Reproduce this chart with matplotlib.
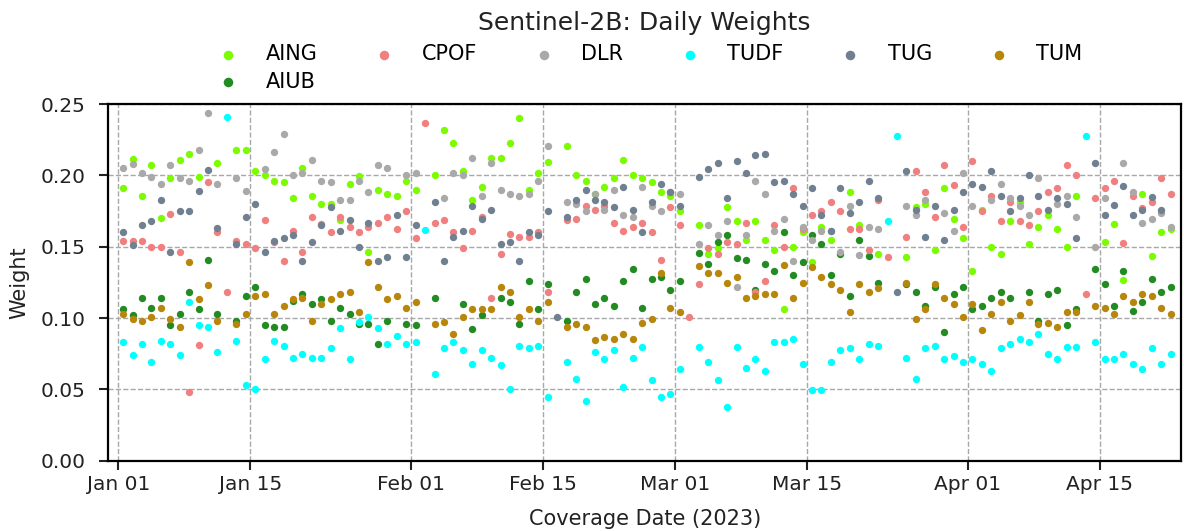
import matplotlib
matplotlib.use("Agg")
import matplotlib.dates as mdates
import matplotlib.pyplot as plt
import numpy as np
import pandas as pd

nan = np.nan

# daily weights, Jan 01 .. Apr 22 2023 (one value per day, nan = no point)
aing = [.191, .2115, .1855, .207, .170, .198, .211, .215, .199, nan, .2085, nan,
        .218, .218, .203, .200, .196, .195, .184, .205, .1855, .180, .180, .169, .194,
        .1995, .146, .1895, .187, .1855, .196, .1895, nan, .200, .2315, .2225, .203,
        .1825, .192, .2125, .2125, .2225, .2405, .1895, .2015, .2095, nan, .2205, .200, .196,
        .187, .192, .198, .211, .200, .198, .195, .188, .1855, .175, nan, .165, .145,
        .149, .1775, .168, .1545, .168, .1545, .1475, .106, .150, .160, .1395, .164,
        .1545, nan, .188, .165, nan, .145, nan, nan, .1425, .1775, .180, .1475, .191,
        .1695, .156, .133, .176, .150, .145, .168, .1815, .152, .164, .172, .1625, .150,
        .1855, nan, nan, .153, .1657, .1267, nan, .187, .1435, .160, .1625]
aiub = [.106, .102, .114, .107, .114, .095, .103, .118, .106, .141, .103, nan,
        .098, .1155, .122, .095, .094, .094, .112, .117, .110, .113, .098, .107, .103,
        .096, .096, .082, .098, nan, .096, .095, nan, .114, nan, nan, .110,
        .0925, .102, nan, .114, .1115, .096, .126, .106, .1235, nan, .098, .118, .1275,
        .110, .114, .1085, .126, .1345, .107, .1275, .1285, .1195, .126, nan, .1455, .138,
        .153, .1585, .142, .141, .1195, .138, .133, .160, .130, .1395, .1585, .152,
        .130, .145, .1155, .1545, .1435, .1245, nan, nan, .1235, .118, .1085, .122, .090,
        .117, .122, .106, .1085, .114, .118, .114, nan, .118, .098, .117, .1195, .095,
        .106, nan, .1345, .1235, .1086, .133, .105, .1115, .1276, .118, .122]
cpof = [.154, .154, .154, .150, .150, .173, .146, .048, .081, .195, .160, .118,
        .154, .152, .149, .169, .153, .140, .161, .146, .171, .166, .160, .171, .164,
        .160, .164, .1665, .171, .1625, .175, .156, .237, .1665, .169, .160, .149,
        .161, .171, .114, .145, .159, .157, .157, .160, .118, nan, .1685, .1695, .1785,
        .176, .1785, .1665, .161, .164, .1665, .160, .1405, .1775, .165, .101, .1235, .149,
        .145, .153, .152, .1665, .118, .126, .165, .150, .191, .1625, .172, .175,
        .1815, .175, .1625, .1625, .1475, .1825, .143, nan, .157, .203, .188, .171, .207,
        .1935, .1635, .210, .175, .1855, .168, .1815, .168, .165, .175, .188, .191, .207,
        .200, .117, .184, .191, .196, .1524, .1855, .1774, .1815, .198, .187]
dlr = [.205, .208, .2015, .199, .194, .207, .198, .196, .218, .2435, .194, nan,
       .198, .189, nan, .2045, .2165, .229, .200, .202, .211, .196, .195, .183, .183,
       .196, .188, .207, .2055, nan, .200, .2015, nan, nan, .184, .2015, .200,
       .2125, .1855, .2085, .1895, .187, .1855, .187, .196, .2205, nan, .1815, .180, .175,
       .187, .176, .1895, .172, .1705, .192, .1785, .175, .188, .187, nan, .152, .165,
       .1585, .168, .122, .1585, .196, .187, .161, .1695, .140, .164, .1545, .161,
       .161, .1465, .1785, .1445, .164, .1625, nan, nan, .1785, .172, .1825, nan, .1735,
       .161, .2015, .1785, nan, .183, .194, .184, .1785, .172, .198, nan, .180, .1855,
       .1705, nan, .1495, .184, nan, .2085, .188, .1668, .1694, .1735, .164]
tudf = [.083, .074, .082, .069, .084, .082, .074, .111, .095, .094, .076, .241,
        .084, .053, .0505, .071, .084, .0805, .072, .075, .072, .072, .079, .093, .071,
        .097, .101, .093, .082, .0875, .082, .083, .1615, .061, .079, .083, .0775,
        .068, .0775, .072, .067, .0505, .0805, .079, .0805, .0445, nan, .0695, .0575, .0415,
        .0765, .071, .0775, .052, .072, .080, .0565, .0445, .047, .064, nan, .080, .0695,
        .0565, .0375, .080, .065, .071, .063, .083, .083, .0855, .068, .0495, .0495,
        .0695, .0775, .079, .071, .082, .0805, .168, .2275, .072, .0575, .079, .0805, .071,
        .0735, .0695, .071, .068, .063, .079, .082, .0855, .083, .0885, .075, .071, .080,
        .080, .2275, .083, .071, .071, .075, .068, .064, .079, .068, .075]
tug = [.160, .151, .165, .168, .183, .146, .175, .175, .189, .204, .163, nan,
       .152, .171, .180, .146, .154, .156, .158, .140, .153, .165, .1775, .161, .169,
       .150, .1665, .140, .143, .172, .143, .165, nan, .1815, .140, .157, .161,
       .1785, .1695, .176, .152, .153, .140, .160, .1585, .175, .101, .1705, .1825, .1895,
       .1825, .1815, .1775, .192, .176, .160, .1815, .194, .188, .1785, nan, .199, .2045,
       .2085, .184, .210, .2015, .214, .215, .195, .196, .187, .1785, .191, .172,
       .161, .191, .1735, .1815, .196, .184, nan, .118, .203, .176, .157, .1785, .1545,
       .176, .188, .194, .192, .203, .1855, .175, .184, .200, .1855, .176, .184, .180,
       .156, nan, .2085, .172, .179, .1925, .172, .176, .185, .176, nan]
tum = [.103, .099, .098, .101, .107, .099, .094, .139, .113, .123, .098, nan,
       .096, .103, .1155, .117, .103, .1085, .113, .114, .098, .110, .113, .117, .118,
       .104, .1395, .122, .113, .1155, .107, .1115, nan, .096, .097, .0885, .101,
       .106, .106, .106, .122, .118, .101, .106, .098, .1115, nan, .094, .0955, .094,
       .0845, .087, .0855, .0885, .0855, .0965, .099, .1315, .107, .1045, nan, .1365, .1315,
       .1315, .1245, .129, .114, .1155, .117, .117, .137, .114, .1245, .1355, .129,
       .1235, .1195, .1045, .1235, .118, .121, nan, nan, .1245, .099, .106, .1235, .114,
       .110, .101, .110, .0915, .103, .1115, .098, .102, .1115, .0955, .0965, .094, .1045,
       .1045, nan, .1085, .107, .103, .1155, .1115, .117, .1155, .107, .103]

names = ["AING", "AIUB", "CPOF", "DLR", "TUDF", "TUG", "TUM"]
colors = ["lawngreen", "forestgreen", "lightcoral", "darkgray", "cyan", "slategray", "darkgoldenrod"]
series = [aing, aiub, cpof, dlr, tudf, tug, tum]

dates = pd.date_range("2023-01-01 12:00", periods=len(aing), freq="D")

plt.rcParams["font.family"] = "DejaVu Sans"
fig = plt.figure(figsize=(11.84, 5.31), dpi=100)
ax = fig.add_axes([0.0915, 0.1324, 0.9060, 0.6717])

for name, vals, col in zip(names, series, colors):
    ax.scatter(dates, vals, s=28, color=col, linewidths=0, label=name)

ax.set_ylim(0, 0.25)
ax.set_xlim(pd.Timestamp("2022-12-30 22:30"), pd.Timestamp("2023-04-23 14:30"))
ax.set_yticks([0, 0.05, 0.10, 0.15, 0.20, 0.25])
ax.yaxis.set_major_formatter(matplotlib.ticker.FormatStrFormatter("%.2f"))
ticks = pd.to_datetime(["2023-01-01", "2023-01-15", "2023-02-01", "2023-02-15",
                        "2023-03-01", "2023-03-15", "2023-04-01", "2023-04-15"])
ax.set_xticks(ticks)
ax.xaxis.set_major_formatter(mdates.DateFormatter("%b %d"))

ax.grid(True, linestyle="--", color="#a8a8a8", linewidth=1)
ax.set_axisbelow(True)
for sp in ax.spines.values():
    sp.set_linewidth(1.6)
    sp.set_color("black")
ax.tick_params(direction="out", length=6.5, width=1.5, labelsize=14.5, colors="#222222")
ax.tick_params(axis="y", pad=10)

ax.set_xlabel("Coverage Date (2023)", fontsize=15, color="#222222", labelpad=11)
ax.set_ylabel("Weight", fontsize=15, color="#222222", labelpad=8)
ax.set_title("Sentinel-2B: Daily Weights", fontsize=18, pad=53, color="#222222")

ax.legend(loc="lower center", bbox_to_anchor=(0.5, 1.0), ncol=6, frameon=False,
          fontsize=15, columnspacing=2.2, handletextpad=0.8, borderaxespad=0.2,
          labelspacing=0.35, markerscale=1.3)

fig.savefig("out.png", dpi=100)
